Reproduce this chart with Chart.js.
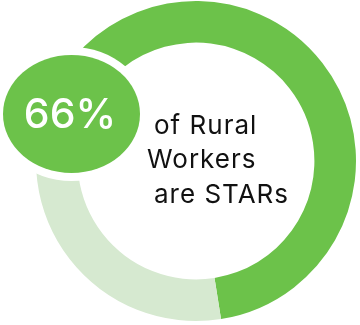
<!DOCTYPE html>
<html>
<head>
<meta charset="utf-8">
<script src="https://cdn.jsdelivr.net/npm/chart.js"></script>
<style>
  html, body { margin: 0; padding: 0; background: #ffffff; }
  #wrap { width: 360px; height: 325px; }
</style>
</head>
<body>
<div id="wrap"><canvas id="starChart" width="360" height="325"></canvas></div>
<script>
// Share of rural workers who are STARs
const segmentLabels = ['STARs', 'Others'];
const segmentValues = [66, 34];
const segmentColors = ['#6cc24a', '#d6e9d0'];
const captionLines = ['of Rural', 'Workers', 'are STARs'];

// Draws the green percentage badge and the caption on top of the ring
const badgePlugin = {
  id: 'badge',
  afterDraw(chart) {
    const ctx = chart.ctx;
    ctx.save();

    // white halo, then the green badge
    ctx.fillStyle = '#ffffff';
    ctx.beginPath();
    ctx.ellipse(71.5, 114, 76.5, 67, 0, 0, Math.PI * 2);
    ctx.fill();
    ctx.fillStyle = segmentColors[0];
    ctx.beginPath();
    ctx.ellipse(71.5, 114, 68.5, 59, 0, 0, Math.PI * 2);
    ctx.fill();

    ctx.fillStyle = '#ffffff';
    ctx.font = '500 41px Inter';
    ctx.textAlign = 'center';
    ctx.textBaseline = 'alphabetic';
    ctx.fillText(segmentValues[0] + '%', 70, 128);

    ctx.fillStyle = '#111111';
    ctx.font = '400 26px Inter';
    ctx.letterSpacing = '1px';
    ctx.textAlign = 'left';
    const xs = [154, 147, 154];
    const ys = [134, 168, 203];
    captionLines.forEach((line, i) => ctx.fillText(line, xs[i], ys[i]));

    ctx.restore();
  }
};

const ctx = document.getElementById('starChart').getContext('2d');
new Chart(ctx, {
  type: 'doughnut',
  data: {
    labels: segmentLabels,
    datasets: [{
      data: segmentValues,
      backgroundColor: segmentColors,
      borderWidth: 0
    }]
  },
  options: {
    responsive: false,
    animation: false,
    cutout: '74%',
    rotation: -66.6,
    layout: {
      padding: { left: 36, right: 4, top: 1, bottom: 4 }
    },
    plugins: {
      legend: { display: false },
      tooltip: { enabled: false }
    }
  },
  plugins: [badgePlugin]
});
</script>
</body>
</html>
